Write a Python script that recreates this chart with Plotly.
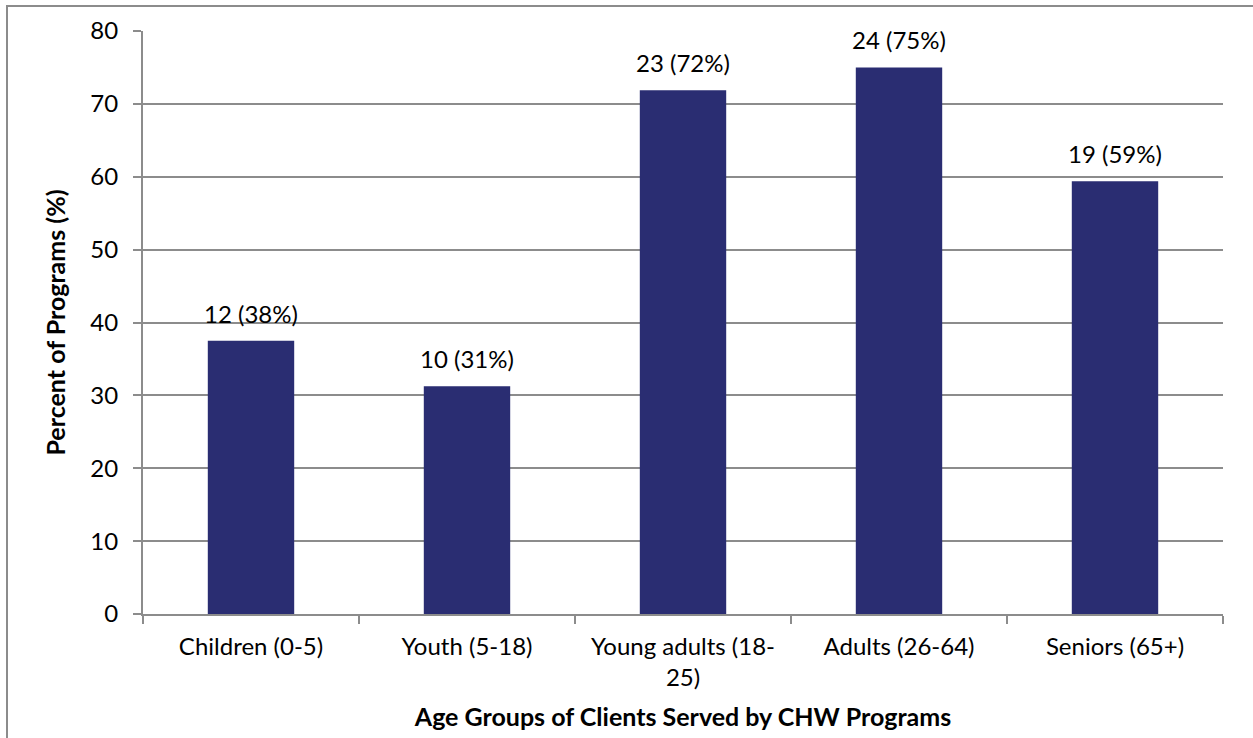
import plotly.graph_objects as go

categories = ["Children (0-5)", "Youth (5-18)", "Young adults (18-<br>25)", "Adults (26-64)", "Seniors (65+)"]
counts = [12, 10, 23, 24, 19]
total_programs = 32
percents = [c / total_programs * 100 for c in counts]
labels = [f"{c} ({round(p)}%)" for c, p in zip(counts, percents)]
y_ticks = [0, 10, 20, 30, 40, 50, 60, 70, 80]

W, H = 1253, 738
ml, mr, mt, mb = 143, 30, 31, 124
pw, ph = W - ml - mr, H - mt - mb

font_family = "Lato, 'Open Sans', sans-serif"
FS = 24
TS = 25

fig = go.Figure()
fig.add_trace(go.Bar(
    x=categories, y=percents,
    marker=dict(color="#2a2d72", line=dict(width=0)),
    width=0.4,
    hoverinfo="skip",
))

for cat, p, lab in zip(categories, percents, labels):
    fig.add_annotation(x=cat, y=p, text=lab, showarrow=False,
                       yanchor="bottom", yshift=11,
                       font=dict(size=FS, color="#000000", family=font_family))

# outer chart border
fig.add_shape(type="rect", xref="paper", yref="paper",
              x0=(7 - ml) / pw, x1=(W + 10 - ml) / pw,
              y0=-(H + 10 - mt - ph) / ph, y1=(ph + mt - 6) / ph,
              line=dict(color="#8c8c8c", width=2), layer="below")

fig.update_layout(
    width=W, height=H,
    margin=dict(l=ml, r=mr, t=mt, b=mb),
    paper_bgcolor="white", plot_bgcolor="white",
    showlegend=False,
    font=dict(family=font_family, size=FS, color="#000000"),
    xaxis=dict(
        showline=True, linecolor="#8c8c8c", linewidth=2,
        ticks="outside", tickson="boundaries", ticklen=8, tickcolor="#8c8c8c", tickwidth=2,
        ticklabelstandoff=10,
        tickfont=dict(size=FS), showgrid=False,
        title=dict(text="<b>Age Groups of Clients Served by CHW Programs</b>", font=dict(size=TS), standoff=18),
    ),
    yaxis=dict(
        range=[0, 80], tickvals=y_ticks,
        showline=True, linecolor="#8c8c8c", linewidth=2,
        ticks="outside", ticklen=8, tickcolor="#8c8c8c", tickwidth=2,
        ticklabelstandoff=10,
        showgrid=True, gridcolor="#8c8c8c", gridwidth=1.5,
        zeroline=False,
        tickfont=dict(size=FS),
        title=dict(text="<b>Percent of Programs (%)</b>", font=dict(size=TS), standoff=18),
    ),
)

fig.write_html("out.html")
